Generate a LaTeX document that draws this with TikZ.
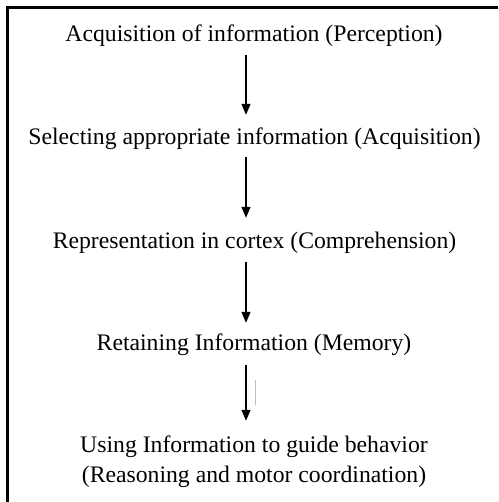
\documentclass[tikz,border=0pt]{standalone}
\usepackage{fontspec}
\setmainfont{Liberation Serif}
\usetikzlibrary{arrows.meta}
\tikzset{
  lbl/.style={anchor=base, inner sep=0pt, text height=16pt, text depth=5pt,
    font=\fontsize{23.7pt}{30pt}\selectfont},
  arr/.style={-{Triangle[length=11pt,width=9pt]}, line width=1.3pt},
  frame/.style={line width=2.3pt}
}
\begin{document}
\begin{tikzpicture}[x=1pt,y=-1pt]
\useasboundingbox (0,0) rectangle (498,502);
\draw[frame] (498,7.5) -- (7.5,7.5) -- (7.5,502);
\coordinate (ax) at (246,0);
\node[lbl] (n1) at (254,42) {Acquisition of information (Perception)};
\node[lbl] (n2) at (254.5,145) {Selecting appropriate information (Acquisition)};
\node[lbl] (n3) at (254.5,248) {Representation in cortex (Comprehension)};
\node[lbl] (n4) at (254,350) {Retaining Information (Memory)};
\node[lbl] (n5) at (254,452) {Using Information to guide behavior};
\node[lbl] (n5b) at (254,482) {(Reasoning and motor coordination)};
\draw[arr, shorten <=8pt, shorten >=14pt] (n1.south -| ax) -- (n2.north -| ax);
\draw[arr, shorten <=7pt, shorten >=14pt] (n2.south -| ax) -- (n3.north -| ax);
\draw[arr, shorten <=9pt, shorten >=11pt] (n3.south -| ax) -- (n4.north -| ax);
\draw[arr, shorten <=10pt, shorten >=15pt] (n4.south -| ax) -- (n5.north -| ax);
\draw[black!25, line width=0.8pt] (255,380) -- (255,405);
\end{tikzpicture}
\end{document}
